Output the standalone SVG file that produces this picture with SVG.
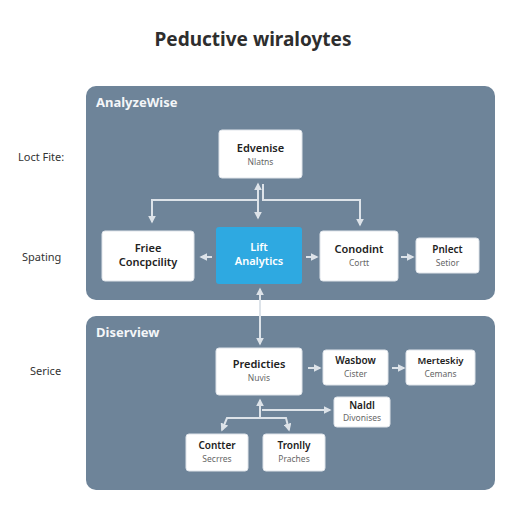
<svg xmlns="http://www.w3.org/2000/svg" width="512" height="512" viewBox="0 0 512 512">
<style>
.panel{fill:#6e8499}
.node{fill:#ffffff;stroke:#dfe4ea;stroke-width:1}
.blue{fill:#2ea9e1}
.t{font-family:"Noto Sans","DejaVu Sans",sans-serif;text-anchor:middle}
.main{font-size:11px;fill:#222;font-weight:600}
.sub{font-size:8.5px;fill:#666}
.ptitle{font-family:"Noto Sans","DejaVu Sans",sans-serif;font-size:13px;font-weight:700;fill:#f4f6f8}
.side{font-family:"Noto Sans","DejaVu Sans",sans-serif;font-size:11px;fill:#333}
.c{fill:none;stroke:#dde3e9;stroke-width:2}
</style>
<defs>
<marker id="ah" viewBox="0 0 10 10" refX="8" refY="5" markerWidth="4" markerHeight="4" orient="auto-start-reverse">
<path d="M0,0 L10,5 L0,10 z" fill="#dde3e9"/>
</marker>
</defs>
<rect width="512" height="512" fill="#ffffff"/>
<text x="253" y="46" class="t" font-size="19" font-weight="700" fill="#2e2e2e">Peductive wiraloytes</text>
<text x="18" y="161" class="side">Loct Fite:</text>
<text x="22" y="261" class="side">Spating</text>
<text x="30" y="375" class="side">Serice</text>
<g id="panel1"><rect x="86" y="86" width="409" height="214" rx="10" class="panel"/><text x="96" y="107" class="ptitle">AnalyzeWise</text></g>
<g id="panel2"><rect x="86" y="316" width="409" height="174" rx="10" class="panel"/><text x="96" y="337" class="ptitle">Diserview</text></g>
<g id="connectors">
<path class="c" d="M258,184 V218" marker-start="url(#ah)" marker-end="url(#ah)"/>
<path class="c" d="M258,200 H152 V222" marker-end="url(#ah)"/>
<path class="c" d="M263,184 V200 H360 V225" marker-end="url(#ah)"/>
<path class="c" d="M212,257 H201" marker-end="url(#ah)"/>
<path class="c" d="M306,257 H317" marker-end="url(#ah)"/>
<path class="c" d="M401,257 H413" marker-end="url(#ah)"/>
<path class="c" d="M260,289 V344" marker-start="url(#ah)" marker-end="url(#ah)"/>
<path class="c" d="M308,368 H320" marker-end="url(#ah)"/>
<path class="c" d="M392,368 H404" marker-end="url(#ah)"/>
<path class="c" d="M260,400 V418" marker-start="url(#ah)"/>
<path class="c" d="M262,410 H330" marker-end="url(#ah)"/>
<path class="c" d="M260,418 H227 L222,430" marker-end="url(#ah)"/>
<path class="c" d="M260,418 H286 L289,430" marker-end="url(#ah)"/>
</g>
<g id="n-edvenise"><rect x="219" y="130" width="83" height="48" rx="3" class="node"/><text x="260.5" y="152" class="t main">Edvenise</text><text x="260.5" y="165" class="t sub">Nlatns</text></g>
<g id="n-fries"><rect x="102" y="231" width="92" height="50" rx="3" class="node"/><text x="148" y="252" class="t main">Friee</text><text x="148" y="266" class="t main">Concpcility</text></g>
<g id="n-lift"><rect x="216" y="227" width="86" height="57" rx="3" class="blue"/><text x="259" y="251" class="t main" style="fill:#ffffff">Lift</text><text x="259" y="265" class="t main" style="fill:#ffffff">Analytics</text></g>
<g id="n-conodint"><rect x="320" y="231" width="78" height="50" rx="3" class="node"/><text x="359" y="253" class="t main">Conodint</text><text x="359" y="266" class="t sub">Cortt</text></g>
<g id="n-pnlect"><rect x="416" y="238" width="63" height="35" rx="3" class="node"/><text x="447.5" y="253" class="t main" style="font-size:10px">Pnlect</text><text x="447.5" y="266" class="t sub">Setior</text></g>
<g id="n-predicties"><rect x="216" y="348" width="86" height="47" rx="3" class="node"/><text x="259" y="368" class="t main">Predicties</text><text x="259" y="381" class="t sub">Nuvis</text></g>
<g id="n-wasbow"><rect x="323" y="350" width="65" height="35" rx="3" class="node"/><text x="355.5" y="364" class="t main" style="font-size:10px">Wasbow</text><text x="355.5" y="377" class="t sub">Cister</text></g>
<g id="n-merteskiy"><rect x="406" y="350" width="69" height="35" rx="3" class="node"/><text x="440.5" y="364" class="t main" style="font-size:9.5px">Merteskiy</text><text x="440.5" y="377" class="t sub">Cemans</text></g>
<g id="n-naldl"><rect x="334" y="397" width="56" height="30" rx="3" class="node"/><text x="362" y="409" class="t main" style="font-size:10px">Naldl</text><text x="362" y="421" class="t sub">Divonises</text></g>
<g id="n-contter"><rect x="186" y="434" width="62" height="37" rx="3" class="node"/><text x="217" y="449" class="t main" style="font-size:10px">Contter</text><text x="217" y="462" class="t sub">Secrres</text></g>
<g id="n-tronlly"><rect x="263" y="434" width="62" height="37" rx="3" class="node"/><text x="294" y="449" class="t main" style="font-size:10px">Tronlly</text><text x="294" y="462" class="t sub">Praches</text></g>
</svg>
